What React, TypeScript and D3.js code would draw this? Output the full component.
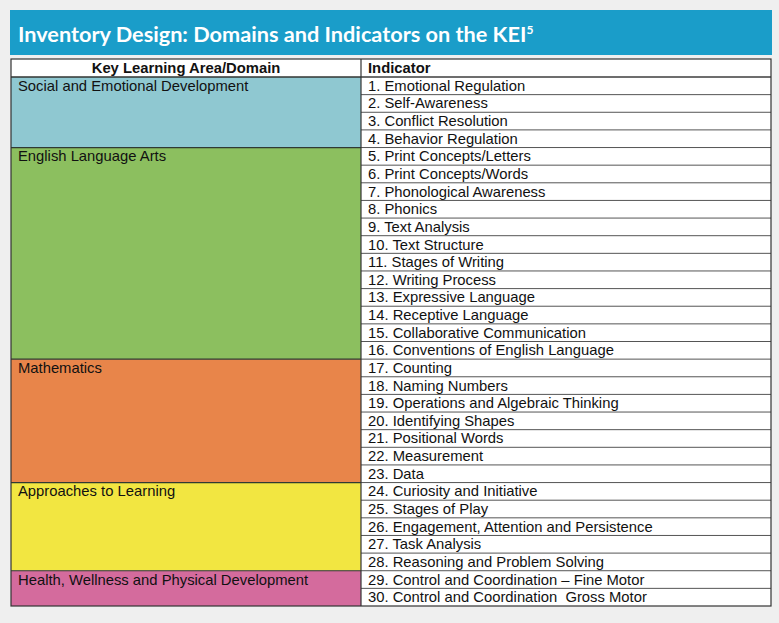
import React from "react";
import * as d3 from "d3";

const title = "Inventory Design: Domains and Indicators on the KEI";
const titleSup = "5";
const headers = ["Key Learning Area/Domain", "Indicator"];
const domains = [
  "Social and Emotional Development",
  "English Language Arts",
  "Mathematics",
  "Approaches to Learning",
  "Health, Wellness and Physical Development",
];
const domainCounts = [4, 12, 7, 5, 2];
const domainColors = ["#8fc8d1", "#8cbf5f", "#e8854a", "#f2e641", "#d46b9d"];
const indicators = [
  "1. Emotional Regulation",
  "2. Self-Awareness",
  "3. Conflict Resolution",
  "4. Behavior Regulation",
  "5. Print Concepts/Letters",
  "6. Print Concepts/Words",
  "7. Phonological Awareness",
  "8. Phonics",
  "9. Text Analysis",
  "10. Text Structure",
  "11. Stages of Writing",
  "12. Writing Process",
  "13. Expressive Language",
  "14. Receptive Language",
  "15. Collaborative Communication",
  "16. Conventions of English Language",
  "17. Counting",
  "18. Naming Numbers",
  "19. Operations and Algebraic Thinking",
  "20. Identifying Shapes",
  "21. Positional Words",
  "22. Measurement",
  "23. Data",
  "24. Curiosity and Initiative",
  "25. Stages of Play",
  "26. Engagement, Attention and Persistence",
  "27. Task Analysis",
  "28. Reasoning and Problem Solving",
  "29. Control and Coordination \u2013 Fine Motor",
  "30. Control and Coordination  Gross Motor",
];

const W = 779;
const H = 623;

export default function App() {
  const left = 11;
  const right = 771;
  const mid = 361;
  const tableTop = 59;
  const headerBottom = 77;
  const bottom = 606;

  const y = d3
    .scaleBand<number>()
    .domain(d3.range(indicators.length))
    .range([headerBottom, bottom])
    .paddingInner(0)
    .paddingOuter(0);
  const rh = y.bandwidth();

  const starts = d3.cumsum([0, ...domainCounts.slice(0, -1)]);
  const font = "'Liberation Sans', Arial, sans-serif";
  const fs = 14.8;

  return (
    <svg
      width={W}
      height={H}
      style={{ position: "absolute", left: 0, top: 0, display: "block", whiteSpace: "pre" }}
    >
      <rect x={0} y={0} width={W} height={H} fill="#efefef" />
      <rect x={10} y={10} width={762} height={45} fill="#1a9dc9" />
      <text
        x={18}
        y={42}
        fill="#ffffff"
        fontFamily="Lato, 'Open Sans', sans-serif"
        fontWeight={700}
        fontSize={21.7}
      >
        {title}
        <tspan fontSize={12} dy={-8}>
          {titleSup}
        </tspan>
      </text>

      {/* table background */}
      <rect x={left} y={tableTop} width={right - left} height={bottom - tableTop} fill="#ffffff" />

      {/* domain cells */}
      {domains.map((d, i) => {
        const y0 = y(starts[i])!;
        const y1 = y(starts[i] + domainCounts[i] - 1)! + rh;
        return (
          <g key={d}>
            <rect x={left} y={y0} width={mid - left} height={y1 - y0} fill={domainColors[i]} />
            <line x1={left} x2={mid} y1={y0} y2={y0} stroke="#2f3a33" strokeWidth={1.2} />
            <text x={18} y={y0 + 13.8} fontFamily={font} fontSize={fs} fill="#111">
              {d}
            </text>
          </g>
        );
      })}

      {/* indicator rows */}
      {indicators.map((t, i) => (
        <g key={t}>
          <line x1={mid} x2={right} y1={y(i)!} y2={y(i)!} stroke="#555" strokeWidth={1} />
          <text
            x={368}
            y={y(i)! + 13.8}
            fontFamily={font}
            fontSize={fs}
            fill="#111"
            style={{ whiteSpace: "pre" }}
          >
            {t}
          </text>
        </g>
      ))}

      {/* header */}
      <text
        x={(left + mid) / 2}
        y={tableTop + 14.3}
        textAnchor="middle"
        fontFamily={font}
        fontWeight={700}
        fontSize={fs}
        fill="#111"
      >
        {headers[0]}
      </text>
      <text x={368} y={tableTop + 14.3} fontFamily={font} fontWeight={700} fontSize={fs} fill="#111">
        {headers[1]}
      </text>

      {/* grid */}
      <line x1={mid} x2={mid} y1={tableTop} y2={bottom} stroke="#333" strokeWidth={1.2} />
      <line x1={left} x2={right} y1={headerBottom} y2={headerBottom} stroke="#333" strokeWidth={1.2} />
      <rect
        x={left}
        y={tableTop}
        width={right - left}
        height={bottom - tableTop}
        fill="none"
        stroke="#333"
        strokeWidth={1.2}
      />
    </svg>
  );
}
